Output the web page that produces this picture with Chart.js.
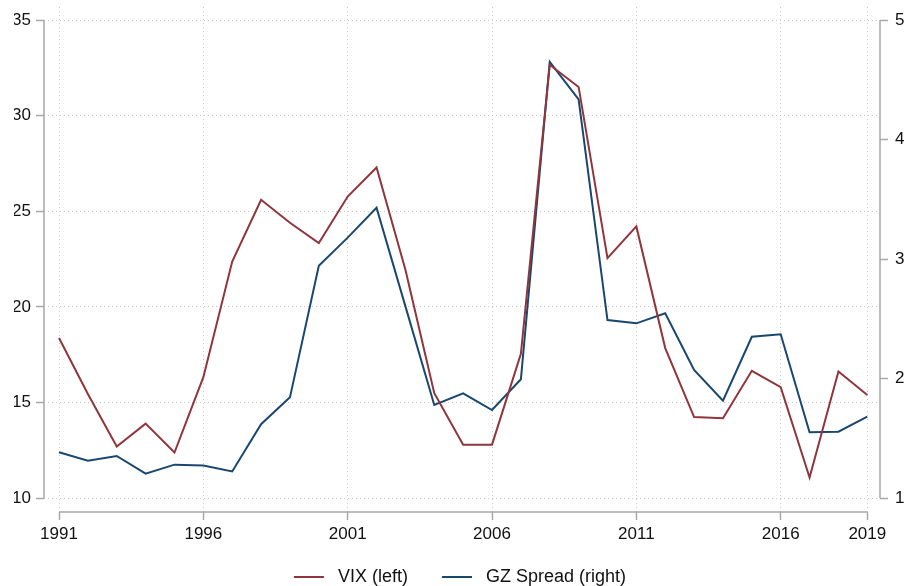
<!DOCTYPE html>
<html>
<head>
<meta charset="utf-8">
<title>VIX and GZ Spread</title>
<script src="https://cdn.jsdelivr.net/npm/chart.js@4/dist/chart.umd.min.js"></script>
<style>
  html, body { margin: 0; padding: 0; background: #fff; }
  #wrap { width: 906px; height: 586px; }
</style>
</head>
<body>
<div id="wrap"><canvas id="vixChart"></canvas></div>
<script>
// Annual averages, 1991-2019
const years = [1991, 1992, 1993, 1994, 1995, 1996, 1997, 1998, 1999, 2000,
               2001, 2002, 2003, 2004, 2005, 2006, 2007, 2008, 2009, 2010,
               2011, 2012, 2013, 2014, 2015, 2016, 2017, 2018, 2019];
const vix = [18.38, 15.45, 12.70, 13.90, 12.39, 16.33, 22.37, 25.60, 24.40, 23.34,
             25.77, 27.29, 21.94, 15.49, 12.80, 12.80, 17.55, 32.66, 31.50, 22.55,
             24.21, 17.85, 14.24, 14.18, 16.66, 15.81, 11.08, 16.62, 15.40];
const gzSpread = [1.385, 1.314, 1.354, 1.206, 1.281, 1.273, 1.224, 1.619, 1.844, 2.945,
                  3.180, 3.430, 2.605, 1.780, 1.878, 1.738, 1.995, 4.650, 4.336, 2.490,
                  2.463, 2.547, 2.073, 1.816, 2.351, 2.371, 1.552, 1.557, 1.682];

// Tick labels
const yearTicks = [1991, 1996, 2001, 2006, 2011, 2016, 2019];
const vixTicks = [10, 15, 20, 25, 30, 35];
const gzTicks = [1, 2, 3, 4, 5];

const RED = 'rgb(144, 53, 59)';
const BLUE = 'rgb(26, 71, 111)';
const AXIS = '#a8a8a8';
const GRID = '#c6c6c6';

Chart.defaults.font.family = '"Liberation Sans", Arial, Helvetica, sans-serif';
Chart.defaults.font.size = 17;
Chart.defaults.color = '#111';

const setTicks = values => scale => {
    scale.ticks = values.map(v => ({ value: v }));
};

// Fixed axis box size, no extra room for edge labels
const fixSize = (w, h) => scale => {
    if (w !== null) scale.width = w;
    if (h !== null) scale.height = h;
    scale.paddingTop = 0;
    scale.paddingBottom = 0;
    scale.paddingLeft = 0;
    scale.paddingRight = 0;
};

// Axis lines only span first..last tick, like Stata
const axisLines = {
    id: 'axisLines',
    afterDraw(chart) {
        const { ctx, chartArea: a, scales: { x, y, y1 } } = chart;
        ctx.save();
        ctx.strokeStyle = AXIS;
        ctx.lineWidth = 1.5;
        ctx.beginPath();
        ctx.moveTo(a.left, y.getPixelForValue(vixTicks[vixTicks.length - 1]));
        ctx.lineTo(a.left, y.getPixelForValue(vixTicks[0]));
        ctx.moveTo(a.right, y1.getPixelForValue(gzTicks[gzTicks.length - 1]));
        ctx.lineTo(a.right, y1.getPixelForValue(gzTicks[0]));
        ctx.moveTo(x.getPixelForValue(yearTicks[0]), a.bottom);
        ctx.lineTo(x.getPixelForValue(yearTicks[yearTicks.length - 1]), a.bottom);
        ctx.stroke();
        ctx.restore();
    }
};

const tickGrid = {
    color: GRID,
    lineWidth: 1,
    tickLength: 8,
    tickColor: AXIS,
    tickWidth: 1.5,
    tickBorderDash: []
};

new Chart(document.getElementById('vixChart'), {
    type: 'line',
    data: {
        datasets: [{
            label: 'VIX (left)',
            data: years.map((yr, i) => ({ x: yr, y: vix[i] })),
            borderColor: RED,
            backgroundColor: RED,
            borderWidth: 2,
            pointRadius: 0,
            tension: 0,
            yAxisID: 'y'
        }, {
            label: 'GZ Spread (right)',
            data: years.map((yr, i) => ({ x: yr, y: gzSpread[i] })),
            borderColor: BLUE,
            backgroundColor: BLUE,
            borderWidth: 2,
            pointRadius: 0,
            tension: 0,
            yAxisID: 'y1'
        }]
    },
    options: {
        responsive: true,
        maintainAspectRatio: false,
        animation: false,
        layout: { padding: { left: 14, top: 7, right: 0, bottom: 0 } },
        plugins: {
            legend: {
                position: 'bottom',
                maxHeight: 42,
                labels: {
                    usePointStyle: true,
                    pointStyle: 'line',
                    pointStyleWidth: 30,
                    padding: 24,
                    color: '#111',
                    font: { size: 18 },
                    // wider gaps: sample -> text, and between the two entries
                    generateLabels: chart => {
                        const items = Chart.defaults.plugins.legend.labels.generateLabels(chart);
                        return items.map((item, i) => Object.assign(item, {
                            text: ' ' + item.text + (i < items.length - 1 ? '  ' : '')
                        }));
                    }
                }
            },
            tooltip: { enabled: false }
        },
        scales: {
            x: {
                type: 'linear',
                min: 1990.48,
                max: 2019.44,
                afterBuildTicks: setTicks(yearTicks),
                afterFit: fixSize(null, 32),
                grid: tickGrid,
                border: { display: false, dash: [1, 3] },
                ticks: { padding: 4, maxRotation: 0, callback: v => String(v) }
            },
            y: {
                position: 'left',
                min: 9.28,
                max: 35.68,
                afterBuildTicks: setTicks(vixTicks),
                afterFit: fixSize(30, null),
                grid: tickGrid,
                border: { display: false, dash: [1, 3] },
                ticks: { padding: 5 }
            },
            y1: {
                position: 'right',
                min: 0.885,
                max: 5.109,
                afterBuildTicks: setTicks(gzTicks),
                afterFit: fixSize(26, null),
                grid: Object.assign({}, tickGrid, { drawOnChartArea: false }),
                border: { display: false },
                ticks: { padding: 7 }
            }
        }
    },
    plugins: [axisLines]
});
</script>
</body>
</html>
